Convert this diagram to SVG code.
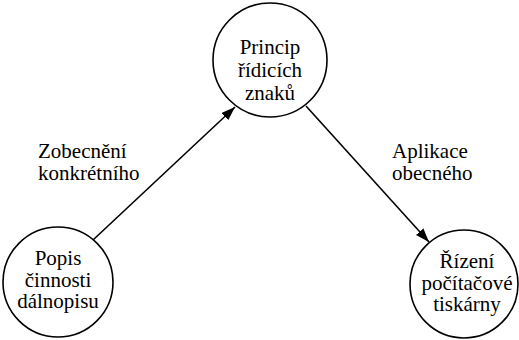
<svg xmlns="http://www.w3.org/2000/svg" width="519" height="340" viewBox="0 0 519 340">
<style>
.node{fill:#fff;stroke:#000;stroke-width:1.6}
.t{font-family:"Liberation Serif","Times New Roman",serif;font-size:21px;fill:#000;text-anchor:middle}
.l{font-family:"Liberation Serif","Times New Roman",serif;font-size:21px;fill:#000}
.edge{stroke:#000;stroke-width:1.6;fill:none}
</style>
<defs>
<marker id="arr" viewBox="0 0 14 10" refX="14" refY="5" markerWidth="14" markerHeight="10" markerUnits="userSpaceOnUse" orient="auto">
<path d="M0,0 L14,5 L0,10 Z" fill="#000"/>
</marker>
</defs>
<rect width="519" height="340" fill="#fff"/>
<g id="connectors">
<line class="edge" x1="93" y1="240" x2="235" y2="107" marker-end="url(#arr)"/>
<line class="edge" x1="306" y1="106" x2="429" y2="242" marker-end="url(#arr)"/>
<text class="l" x="38" y="158">Zobecnění</text>
<text class="l" x="38" y="180">konkrétního</text>
<text class="l" x="392" y="158">Aplikace</text>
<text class="l" x="392" y="180">obecného</text>
</g>
<g id="principle">
<circle class="node" cx="270" cy="60" r="57"/>
<text class="t" x="270" y="54">Princip</text>
<text class="t" x="270" y="77">řídicích</text>
<text class="t" x="270" y="100">znaků</text>
</g>
<g id="telex">
<circle class="node" cx="58" cy="282" r="55"/>
<text class="t" x="58" y="265">Popis</text>
<text class="t" x="58" y="287">činnosti</text>
<text class="t" x="58" y="308">dálnopisu</text>
</g>
<g id="printer">
<circle class="node" cx="464" cy="284" r="54"/>
<text class="t" x="467" y="268">Řízení</text>
<text class="t" x="467" y="290">počítačové</text>
<text class="t" x="467" y="311">tiskárny</text>
</g>
</svg>
